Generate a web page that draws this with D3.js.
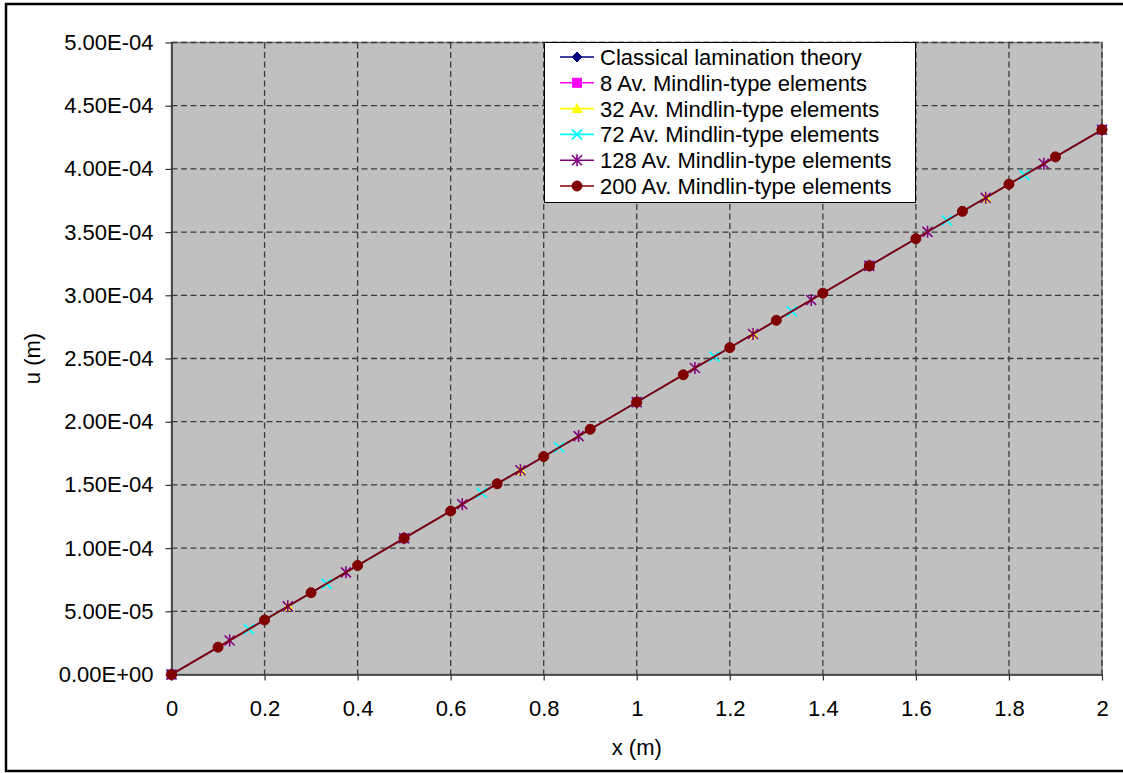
<!DOCTYPE html>
<html>
<head>
<meta charset="utf-8">
<script src="https://cdn.jsdelivr.net/npm/d3@7"></script>
<style>
  html, body { margin: 0; padding: 0; background: #fff; }
  svg { display: block; font-family: "Liberation Sans", Arial, sans-serif; }
</style>
</head>
<body>
<svg id="chart" width="1123" height="773"></svg>
<script>
// Axial displacement u along the plate, x in metres
const seriesNames = [
  "Classical lamination theory",
  "8 Av. Mindlin-type elements",
  "32 Av. Mindlin-type elements",
  "72 Av. Mindlin-type elements",
  "128 Av. Mindlin-type elements",
  "200 Av. Mindlin-type elements"
];

const xClassical = [0, 0.5, 1, 1.5, 2];
const uClassical = [0, 1.078e-4, 2.155e-4, 3.233e-4, 4.310e-4];

const x8 = [0, 0.5, 1, 1.5, 2];
const u8 = [0, 1.078e-4, 2.155e-4, 3.233e-4, 4.310e-4];

const x32 = [0, 0.25, 0.5, 0.75, 1, 1.25, 1.5, 1.75, 2];
const u32 = [0, 5.39e-5, 1.078e-4, 1.616e-4, 2.155e-4, 2.694e-4, 3.233e-4, 3.771e-4, 4.310e-4];

const x72 = [0, 0.1667, 0.3333, 0.5, 0.6667, 0.8333, 1, 1.1667, 1.3333, 1.5, 1.6667, 1.8333, 2];
const u72 = [0, 3.59e-5, 7.18e-5, 1.078e-4, 1.437e-4, 1.796e-4, 2.155e-4, 2.514e-4, 2.873e-4, 3.233e-4, 3.592e-4, 3.951e-4, 4.310e-4];

const x128 = [0, 0.125, 0.25, 0.375, 0.5, 0.625, 0.75, 0.875, 1, 1.125, 1.25, 1.375, 1.5, 1.625, 1.75, 1.875, 2];
const u128 = [0, 2.69e-5, 5.39e-5, 8.08e-5, 1.078e-4, 1.347e-4, 1.616e-4, 1.886e-4, 2.155e-4, 2.425e-4, 2.694e-4, 2.963e-4, 3.233e-4, 3.502e-4, 3.771e-4, 4.041e-4, 4.310e-4];

const x200 = [0, 0.1, 0.2, 0.3, 0.4, 0.5, 0.6, 0.7, 0.8, 0.9, 1, 1.1, 1.2, 1.3, 1.4, 1.5, 1.6, 1.7, 1.8, 1.9, 2];
const u200 = [0, 2.16e-5, 4.31e-5, 6.47e-5, 8.62e-5, 1.078e-4, 1.293e-4, 1.509e-4, 1.724e-4, 1.940e-4, 2.155e-4, 2.371e-4, 2.586e-4, 2.802e-4, 3.017e-4, 3.233e-4, 3.448e-4, 3.664e-4, 3.879e-4, 4.095e-4, 4.310e-4];

const xTicks = [0, 0.2, 0.4, 0.6, 0.8, 1, 1.2, 1.4, 1.6, 1.8, 2];
const yTicks = [0, 5e-5, 1e-4, 1.5e-4, 2e-4, 2.5e-4, 3e-4, 3.5e-4, 4e-4, 4.5e-4, 5e-4];
const yTickLabels = ["0.00E+00", "5.00E-05", "1.00E-04", "1.50E-04", "2.00E-04", "2.50E-04",
                     "3.00E-04", "3.50E-04", "4.00E-04", "4.50E-04", "5.00E-04"];

const seriesX = [xClassical, x8, x32, x72, x128, x200];
const seriesU = [uClassical, u8, u32, u72, u128, u200];
const lineColors = ["#000080", "#FF00FF", "#FFFF00", "#00FFFF", "#800080", "#800000"];
const markerKinds = ["diamond", "square", "triangle", "x", "star", "circle"];

const FONT = "22px";
const svg = d3.select("#chart");
const W = 1123;
const plot = { left: 171.5, right: 1102, top: 42.5, bottom: 674.5 };

const xScale = d3.scaleLinear().domain([0, 2]).range([plot.left, plot.right]);
const yScale = d3.scaleLinear().domain([0, 5e-4]).range([plot.bottom, plot.top]);

// outer frame
svg.append("rect").attr("x", 6).attr("y", 4).attr("width", W + 10).attr("height", 767)
  .attr("fill", "#fff").attr("stroke", "#000").attr("stroke-width", 2.5);

// plot area
svg.append("rect")
  .attr("x", plot.left).attr("y", plot.top)
  .attr("width", plot.right - plot.left).attr("height", plot.bottom - plot.top)
  .attr("fill", "#C0C0C0").attr("stroke", "#808080").attr("stroke-width", 1.5);

// dashed gridlines
const grid = svg.append("g").attr("stroke", "#3a3a3a").attr("stroke-width", 1.3)
  .attr("stroke-dasharray", "6,3.5");
grid.selectAll("line.gx").data(xTicks.slice(1)).join("line")
  .attr("x1", d => xScale(d)).attr("x2", d => xScale(d))
  .attr("y1", plot.top).attr("y2", plot.bottom);
grid.selectAll("line.gy").data(yTicks.slice(1)).join("line")
  .attr("x1", plot.left).attr("x2", plot.right)
  .attr("y1", d => yScale(d)).attr("y2", d => yScale(d));

// axes
const xAxis = d3.axisBottom(xScale).tickValues(xTicks).tickFormat(d3.format("")).tickSizeInner(6).tickSizeOuter(0).tickPadding(20);
const yAxis = d3.axisLeft(yScale).tickValues(yTicks).tickFormat((d, i) => yTickLabels[i]).tickSizeInner(6).tickSizeOuter(0).tickPadding(12);

const gx = svg.append("g").attr("transform", `translate(0,${plot.bottom})`).call(xAxis);
const gy = svg.append("g").attr("transform", `translate(${plot.left},0)`).call(yAxis);
[gx, gy].forEach(g => {
  g.select(".domain").attr("stroke", "#333").attr("stroke-width", 1.5);
  g.selectAll(".tick line").attr("stroke", "#333").attr("stroke-width", 1.2);
  g.selectAll(".tick text").attr("fill", "#000").style("font-size", FONT)
    .style("font-family", "'Liberation Sans', Arial, sans-serif");
});
gx.selectAll(".tick text").attr("dy", "0.71em");

// axis titles
svg.append("text").attr("x", (plot.left + plot.right) / 2).attr("y", 755)
  .attr("text-anchor", "middle").style("font-size", FONT).text("x (m)");
svg.append("text").attr("transform", `translate(40,${(plot.top + plot.bottom) / 2}) rotate(-90)`)
  .attr("text-anchor", "middle").style("font-size", FONT).text("u (m)");

// marker drawing
function drawMarker(g, kind, color, cx, cy) {
  if (kind === "diamond") {
    g.append("path").attr("d", `M${cx},${cy - 5}L${cx + 5},${cy}L${cx},${cy + 5}L${cx - 5},${cy}Z`)
      .attr("fill", color).attr("stroke", color);
  } else if (kind === "square") {
    g.append("rect").attr("x", cx - 4.5).attr("y", cy - 4.5).attr("width", 9).attr("height", 9)
      .attr("fill", color).attr("stroke", color);
  } else if (kind === "triangle") {
    g.append("path").attr("d", `M${cx},${cy - 5}L${cx + 5},${cy + 4}L${cx - 5},${cy + 4}Z`)
      .attr("fill", color).attr("stroke", color);
  } else if (kind === "x") {
    g.append("path").attr("d", `M${cx - 5},${cy - 5}L${cx + 5},${cy + 5}M${cx - 5},${cy + 5}L${cx + 5},${cy - 5}`)
      .attr("stroke", color).attr("stroke-width", 1.8).attr("fill", "none");
  } else if (kind === "star") {
    g.append("path").attr("d", `M${cx - 5},${cy - 5}L${cx + 5},${cy + 5}M${cx - 5},${cy + 5}L${cx + 5},${cy - 5}M${cx},${cy - 6}L${cx},${cy + 6}`)
      .attr("stroke", color).attr("stroke-width", 1.6).attr("fill", "none");
  } else if (kind === "circle") {
    g.append("circle").attr("cx", cx).attr("cy", cy).attr("r", 5)
      .attr("fill", color).attr("stroke", color);
  }
}

const line = d3.line().x(d => xScale(d[0])).y(d => yScale(d[1]));

seriesNames.forEach((name, i) => {
  const pts = seriesX[i].map((x, j) => [x, seriesU[i][j]]);
  const g = svg.append("g");
  g.append("path").datum(pts).attr("d", line)
    .attr("fill", "none").attr("stroke", lineColors[i]).attr("stroke-width", 1.6);
  pts.forEach(p => drawMarker(g, markerKinds[i], lineColors[i], xScale(p[0]), yScale(p[1])));
});

// legend
const lg = svg.append("g");
lg.append("rect").attr("x", 544.5).attr("y", 42.5).attr("width", 371).attr("height", 160)
  .attr("fill", "#fff").attr("stroke", "#000").attr("stroke-width", 1);
seriesNames.forEach((name, i) => {
  const cy = 57 + i * 25.8;
  lg.append("line").attr("x1", 560).attr("x2", 594).attr("y1", cy).attr("y2", cy)
    .attr("stroke", lineColors[i]).attr("stroke-width", 1.6);
  drawMarker(lg, markerKinds[i], lineColors[i], 577, cy);
  lg.append("text").attr("x", 600).attr("y", cy).attr("dy", "0.36em")
    .style("font-size", FONT).text(name);
});
</script>
</body>
</html>
